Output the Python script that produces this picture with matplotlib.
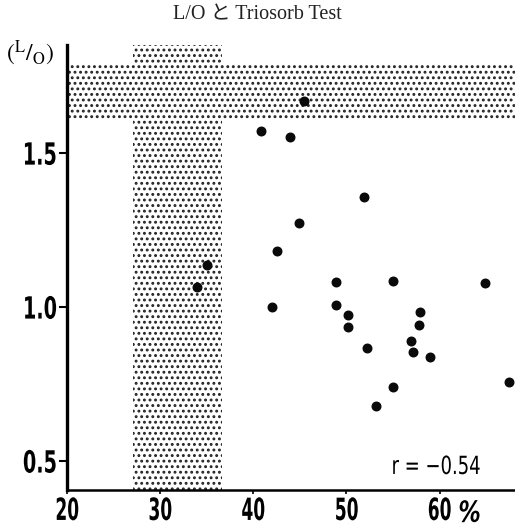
import matplotlib
matplotlib.use("Agg")
import matplotlib.pyplot as plt
from matplotlib.patheffects import AbstractPathEffect
from matplotlib.transforms import Affine2D

# Triosorb test (%) vs L/O ratio
triosorb = [40.8, 43.9, 45.4, 51.9, 44.9, 42.6, 35.0, 34.0, 48.9, 55.0, 64.9, 42.0,
            48.9, 50.2, 50.2, 57.9, 57.8, 52.2, 56.9, 57.2, 59.0, 55.0, 67.5, 53.2]
lo_ratio = [1.571, 1.552, 1.669, 1.358, 1.272, 1.183, 1.137, 1.065, 1.082, 1.085, 1.079, 1.001,
            1.006, 0.973, 0.936, 0.984, 0.943, 0.868, 0.891, 0.855, 0.838, 0.740, 0.756, 0.679]

normal_x = (27.1, 36.6)    # normal range of the Triosorb test
normal_y = (1.607, 1.786)  # normal range of L/O
xticks = [20, 30, 40, 50, 60]
yticks = [0.5, 1.0, 1.5]
ytick_labels = ["0.5", "1.0", "1.5"]


class Squeeze(AbstractPathEffect):
    """Narrow the glyphs horizontally (the print uses a very condensed face)."""
    def __init__(self, sx, anchor="center"):
        super().__init__()
        self.sx, self.anchor = sx, anchor

    def draw_path(self, renderer, gc, tpath, affine, rgbFace=None):
        ext = tpath.get_extents()
        cx = {"left": ext.x0, "center": (ext.x0 + ext.x1) / 2, "right": ext.x1}[self.anchor]
        sq = Affine2D().translate(-cx, 0).scale(self.sx, 1).translate(cx, 0)
        renderer.draw_path(gc, tpath, sq + affine, rgbFace)


plt.rcParams["hatch.linewidth"] = 1.3
plt.rcParams["mathtext.fontset"] = "stix"
NARROW = dict(family=["DejaVu Sans"], fontstretch="condensed", fontweight="bold")
SERIF = ["Liberation Serif", "Noto Sans CJK JP", "DejaVu Sans"]

fig = plt.figure(figsize=(5.15, 5.30), dpi=100)
ax = fig.add_axes([0.130, 0.0755, 0.870, 0.8395])

ax.axvspan(*normal_x, facecolor="white", edgecolor="#222222", hatch="...", lw=0, zorder=1)
ax.axhspan(*normal_y, facecolor="white", edgecolor="#222222", hatch="...", lw=0, zorder=1)
ax.scatter(triosorb, lo_ratio, s=38, color="#0a0a0a", zorder=3)

ax.set_xlim(20, 68.1)
ax.set_ylim(0.406, 1.851)
for s in ("top", "right"):
    ax.spines[s].set_visible(False)
ax.spines["left"].set_linewidth(2.4)
ax.spines["bottom"].set_linewidth(1.8)

ax.set_xticks(xticks)
ax.set_xticklabels([str(v) for v in xticks], fontsize=22,
                   path_effects=[Squeeze(0.62)], **NARROW)
ax.set_yticks(yticks)
ax.set_yticklabels(ytick_labels, fontsize=22,
                   path_effects=[Squeeze(0.7, "right")], **NARROW)
ax.tick_params(axis="y", length=6, width=1.5, pad=1)
ax.tick_params(axis="x", length=3, width=1.2, pad=2)

ax.text(62.0, -0.022, "%", transform=ax.get_xaxis_transform(), fontsize=21,
        fontstyle="italic", va="top", ha="left",
        path_effects=[Squeeze(0.85, "left")], **NARROW)
ax.text(0.924, 0.036, "r = −0.54", transform=ax.transAxes, fontsize=18,
        ha="right", va="baseline", family=["DejaVu Sans"], fontstretch="condensed",
        path_effects=[Squeeze(0.8, "right")])

fig.text(0.058, 0.9, r"$(^{\mathrm{L}}/_{\mathrm{O}})$", fontsize=17, ha="center", va="center")
fig.text(0.5, 0.972, "L/O と Triosorb Test", family=SERIF, fontsize=14.5,
         ha="center", va="center", color="#222222")

fig.savefig("out.png", dpi=100, facecolor="white")
